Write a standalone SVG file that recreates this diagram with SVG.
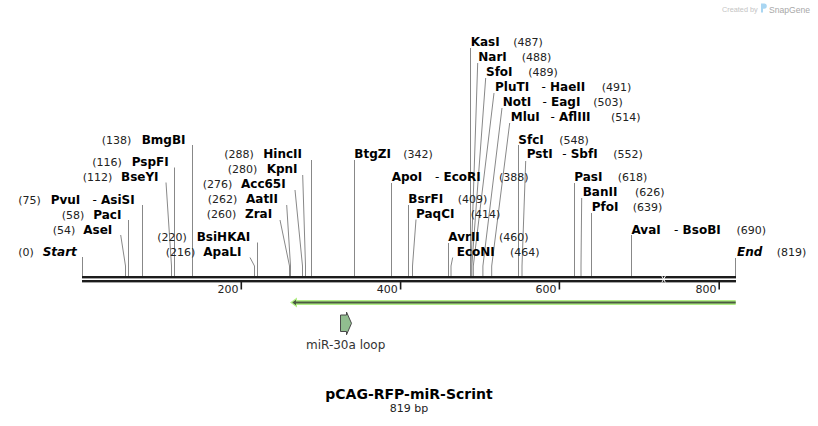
<svg xmlns="http://www.w3.org/2000/svg" width="818" height="426" viewBox="0 0 818 426">
<style>
text{font-family:"DejaVu Sans",Verdana,sans-serif}
.n{font-size:12px;font-weight:bold;fill:#000}
.i{font-size:12px;font-weight:bold;font-style:italic;fill:#000}
.c{font-size:11px;fill:#222}
.d{font-size:12px;fill:#000}
.t{font-size:11px;fill:#222;text-anchor:end}
.cl line,.cl polyline{stroke:#888;stroke-width:1;fill:none}
</style>
<rect width="818" height="426" fill="#fff"/>
<g id="watermark">
<text x="722" y="11.5" style="font-family:'Liberation Sans',Arial,sans-serif;font-size:7.3px;fill:#c4c4c4">Created by</text>
<path d="M761 3.5h3.2a2.6 2.6 0 0 1 0 5.2h-1.2v3.8h-2z" fill="#a9d6f2"/>
<text x="769" y="12.5" style="font-family:'Liberation Sans',Arial,sans-serif;font-size:8.6px;fill:#a8a8a8">SnapGene</text>
</g>
<g id="connectors" class="cl">
<line x1="82.5" y1="257" x2="82.5" y2="276"/>
<polyline points="120.7,235 125.5,266 125.5,276"/>
<line x1="128.5" y1="220" x2="128.5" y2="276"/>
<line x1="142.5" y1="205" x2="142.5" y2="276"/>
<polyline points="166,182.5 171.5,266 171.5,276"/>
<line x1="174.5" y1="167.5" x2="174.5" y2="276"/>
<line x1="192.5" y1="145" x2="192.5" y2="276"/>
<polyline points="250,257.5 254.5,266 254.5,276"/>
<line x1="257.5" y1="242.5" x2="257.5" y2="276"/>
<polyline points="280,220 289.5,266 289.5,276"/>
<polyline points="286.7,205 290.5,266 290.5,276"/>
<polyline points="295,190 302.5,266 302.5,276"/>
<polyline points="302.7,175 305.5,266 305.5,276"/>
<line x1="311.5" y1="160" x2="311.5" y2="276"/>
<line x1="354.5" y1="160" x2="354.5" y2="276"/>
<line x1="391.5" y1="183" x2="391.5" y2="276"/>
<line x1="408.5" y1="205" x2="408.5" y2="276"/>
<polyline points="416,219.5 412.5,266 412.5,276"/>
<line x1="448.5" y1="243" x2="448.5" y2="276"/>
<polyline points="452.7,257.5 451,266 451,276"/>
<line x1="470.5" y1="48" x2="470.5" y2="276"/>
<polyline points="477.7,63 471,266 471,276"/>
<polyline points="485.7,78 471.8,266 471.8,276"/>
<polyline points="494,93 473.3,266 473.3,276"/>
<polyline points="502,108 482.9,266 482.9,276"/>
<polyline points="509.7,123 491.7,266 491.7,276"/>
<line x1="518.5" y1="145" x2="518.5" y2="276"/>
<polyline points="525.7,161 522,266 522,276"/>
<line x1="574.5" y1="183" x2="574.5" y2="276"/>
<polyline points="581.7,198 581,266 581,276"/>
<line x1="591.5" y1="213" x2="591.5" y2="276"/>
<line x1="631.5" y1="235" x2="631.5" y2="276"/>
<line x1="735.5" y1="258" x2="735.5" y2="276"/>
</g>
<g id="map">
<rect x="82" y="276" width="654" height="2.4" fill="#1c1c1c"/>
<rect x="82" y="280" width="654" height="2.4" fill="#1c1c1c"/>
<path d="M661.8 276l3.6 6.4M665.4 276l-3.6 6.4" stroke="#fff" stroke-width="1"/>
<g fill="#1c1c1c">
<rect x="240.5" y="282" width="1.6" height="7.5"/>
<rect x="399.8" y="282" width="1.6" height="7.5"/>
<rect x="558.6" y="282" width="1.6" height="7.5"/>
<rect x="718.4" y="282" width="1.6" height="7.5"/>
</g>
<text class="t" x="238.5" y="292.5">200</text>
<text class="t" x="397.8" y="292.5">400</text>
<text class="t" x="556.6" y="292.5">600</text>
<text class="t" x="716.4" y="292.5">800</text>
</g>
<g id="orf">
<path d="M735.7 300H297V297.5L290 302.5L297 307.5V305H735.7Z" fill="#b2ef86"/>
<path d="M735.7 301.4H296V299.8L292.3 302.5L296 305.2V303.6H735.7Z" fill="#4b5a41"/>
</g>
<g id="miR-30a-loop">
<path d="M340.5 315H346.5V312L351.5 323.3L346.5 334.8V331.5H340.5Z" fill="#91bd8f" stroke="#4a4a4a" stroke-width="1"/>
<text x="306" y="349" style="font-size:12px;fill:#333">miR-30a loop</text>
</g>
<g id="e-Start"><text class="c" x="18.3" y="256">(0)</text><text class="i" x="42.7" y="256">Start</text></g>
<g id="e-AseI"><text class="c" x="52.7" y="233.5">(54)</text><text class="n" x="83.3" y="233.5">AseI</text></g>
<g id="e-PacI"><text class="c" x="61.7" y="218.5">(58)</text><text class="n" x="93.3" y="218.5">PacI</text></g>
<g id="e-PvuI"><text class="c" x="18.3" y="203.5">(75)</text><text class="n" x="50.7" y="203.5">PvuI</text><text class="d" x="92.5" y="203.5">-</text><text class="n" x="101" y="203.5">AsiSI</text></g>
<g id="e-BseYI"><text class="c" x="82.7" y="181">(112)</text><text class="n" x="121" y="181">BseYI</text></g>
<g id="e-PspFI"><text class="c" x="92.3" y="166">(116)</text><text class="n" x="131.7" y="166">PspFI</text></g>
<g id="e-BmgBI"><text class="c" x="101.7" y="143.5">(138)</text><text class="n" x="141.7" y="143.5">BmgBI</text></g>
<g id="e-ApaLI"><text class="c" x="165.7" y="256">(216)</text><text class="n" x="203.3" y="256">ApaLI</text></g>
<g id="e-BsiHKAI"><text class="c" x="157.3" y="241">(220)</text><text class="n" x="196.7" y="241">BsiHKAI</text></g>
<g id="e-ZraI"><text class="c" x="206.7" y="218">(260)</text><text class="n" x="245" y="218">ZraI</text></g>
<g id="e-AatII"><text class="c" x="207.7" y="203">(262)</text><text class="n" x="246" y="203">AatII</text></g>
<g id="e-Acc65I"><text class="c" x="202.7" y="188">(276)</text><text class="n" x="241" y="188">Acc65I</text></g>
<g id="e-KpnI"><text class="c" x="227.7" y="173">(280)</text><text class="n" x="266.7" y="173">KpnI</text></g>
<g id="e-HincII"><text class="c" x="224.3" y="158">(288)</text><text class="n" x="263.3" y="158">HincII</text></g>
<g id="e-BtgZI"><text class="n" x="354.3" y="158">BtgZI</text><text class="c" x="403.3" y="158">(342)</text></g>
<g id="e-ApoI"><text class="n" x="391.7" y="181">ApoI</text><text class="d" x="435" y="181">-</text><text class="n" x="443.5" y="181">EcoRI</text><text class="c" x="499" y="181">(388)</text></g>
<g id="e-BsrFI"><text class="n" x="408.3" y="203">BsrFI</text><text class="c" x="457.7" y="203">(409)</text></g>
<g id="e-PaqCI"><text class="n" x="416" y="218">PaqCI</text><text class="c" x="470.7" y="218">(414)</text></g>
<g id="e-AvrII"><text class="n" x="448.3" y="241">AvrII</text><text class="c" x="499" y="241">(460)</text></g>
<g id="e-EcoNI"><text class="n" x="456.7" y="256">EcoNI</text><text class="c" x="510" y="256">(464)</text></g>
<g id="e-KasI"><text class="n" x="470.7" y="45.5">KasI</text><text class="c" x="513.3" y="45.5">(487)</text></g>
<g id="e-NarI"><text class="n" x="478.3" y="60.5">NarI</text><text class="c" x="521.7" y="60.5">(488)</text></g>
<g id="e-SfoI"><text class="n" x="486" y="75.5">SfoI</text><text class="c" x="528.3" y="75.5">(489)</text></g>
<g id="e-PluTI"><text class="n" x="495" y="90.5">PluTI</text><text class="d" x="541.5" y="90.5">-</text><text class="n" x="550" y="90.5">HaeII</text><text class="c" x="601.7" y="90.5">(491)</text></g>
<g id="e-NotI"><text class="n" x="502.7" y="105.5">NotI</text><text class="d" x="542.5" y="105.5">-</text><text class="n" x="551" y="105.5">EagI</text><text class="c" x="593.3" y="105.5">(503)</text></g>
<g id="e-MluI"><text class="n" x="510.7" y="120.5">MluI</text><text class="d" x="550.5" y="120.5">-</text><text class="n" x="559" y="120.5">AflIII</text><text class="c" x="611" y="120.5">(514)</text></g>
<g id="e-SfcI"><text class="n" x="518.3" y="143.5">SfcI</text><text class="c" x="559.3" y="143.5">(548)</text></g>
<g id="e-PstI"><text class="n" x="526.7" y="158">PstI</text><text class="d" x="562.2" y="158">-</text><text class="n" x="570.7" y="158">SbfI</text><text class="c" x="613.3" y="158">(552)</text></g>
<g id="e-PasI"><text class="n" x="574.3" y="181">PasI</text><text class="c" x="617.7" y="181">(618)</text></g>
<g id="e-BanII"><text class="n" x="582.7" y="196">BanII</text><text class="c" x="635" y="196">(626)</text></g>
<g id="e-PfoI"><text class="n" x="591.7" y="211">PfoI</text><text class="c" x="632.7" y="211">(639)</text></g>
<g id="e-AvaI"><text class="n" x="631.5" y="233.5">AvaI</text><text class="d" x="674" y="233.5">-</text><text class="n" x="682.6" y="233.5">BsoBI</text><text class="c" x="736.4" y="233.5">(690)</text></g>
<g id="e-End"><text class="i" x="737" y="256">End</text><text class="c" x="776.7" y="256">(819)</text></g>
<g id="title">
<text x="409" y="398.5" text-anchor="middle" style="font-size:14px;font-weight:bold;fill:#000">pCAG-RFP-miR-Scrint</text>
<text x="409" y="412" text-anchor="middle" style="font-size:11px;fill:#222">819 bp</text>
</g>
</svg>
